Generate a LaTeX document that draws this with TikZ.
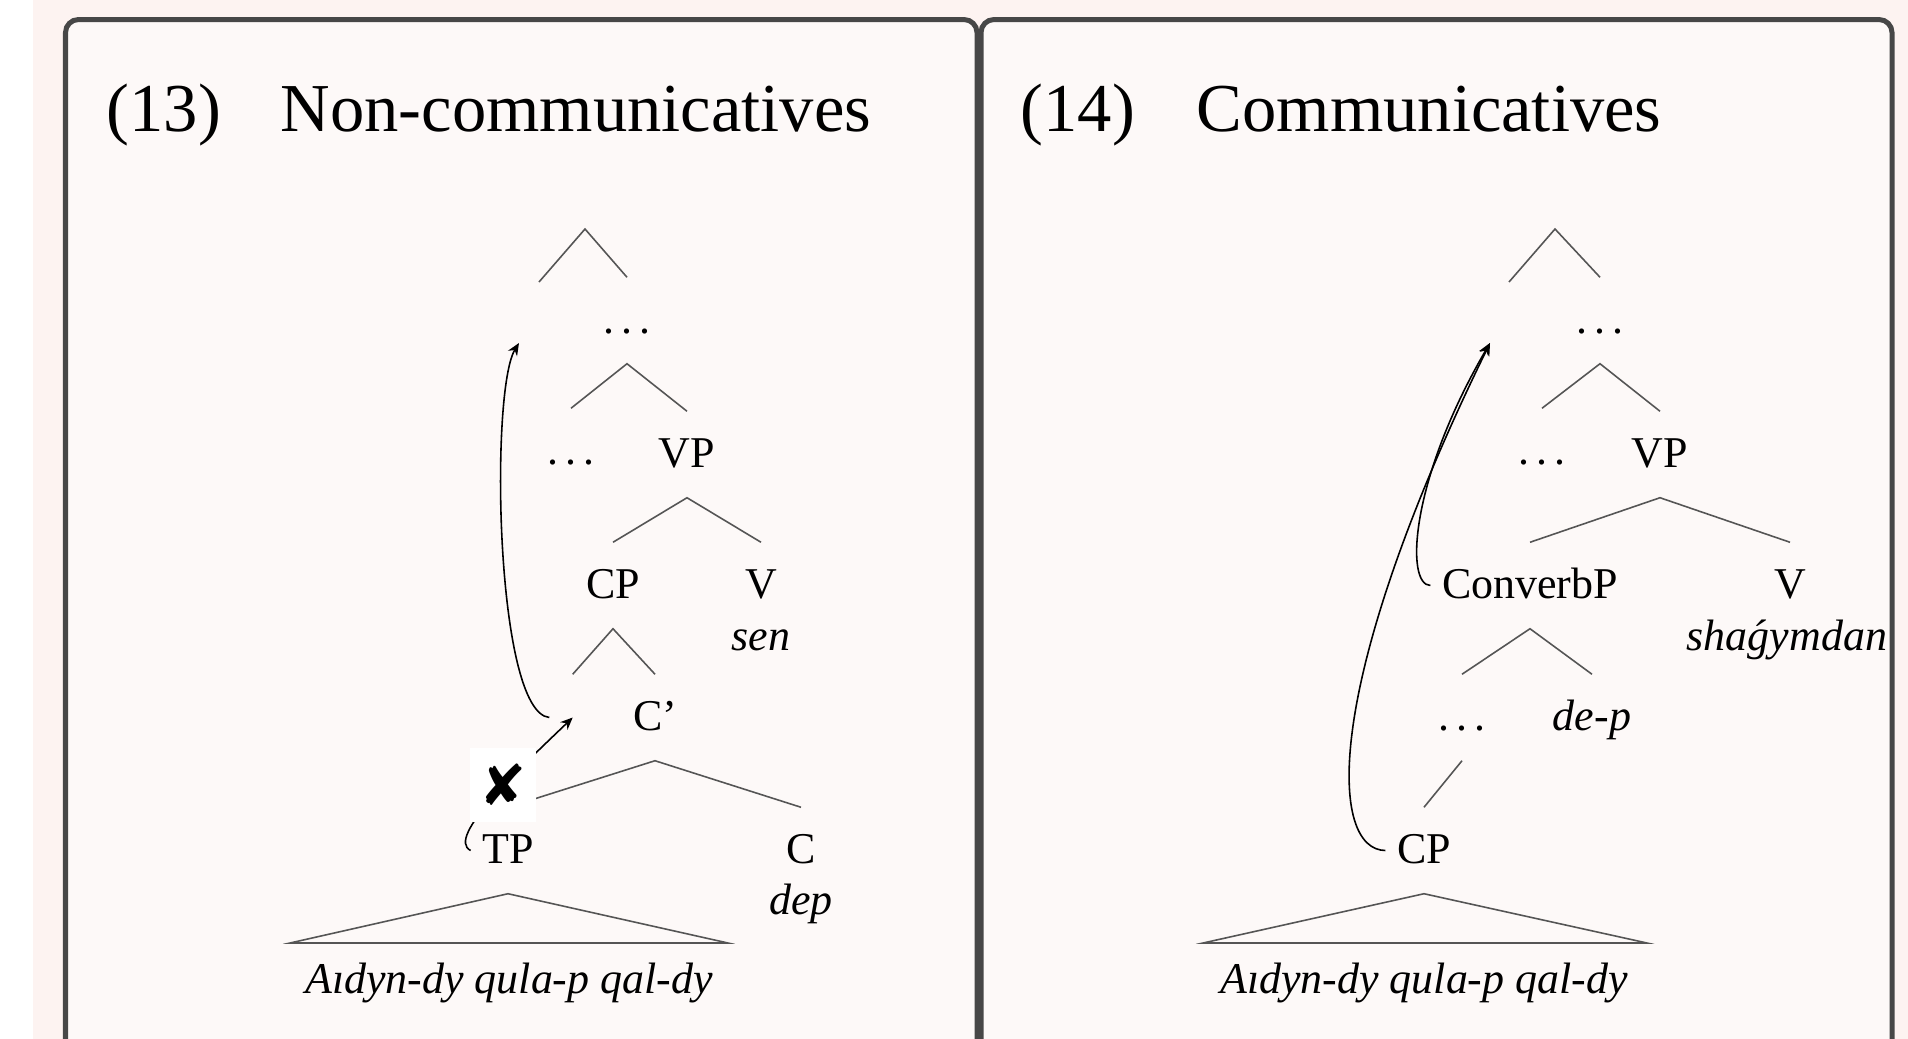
\documentclass[tikz,border=0pt]{standalone}
\usepackage{fontspec}
\setmainfont{Liberation Serif}
\newfontfamily\dejavu{DejaVu Sans}
\usetikzlibrary{arrows.meta}
\definecolor{pagebg}{HTML}{FDF3F1}
\definecolor{panelbg}{HTML}{FDF9F8}
\definecolor{panelline}{HTML}{474747}
\definecolor{branchgray}{HTML}{555555}
\newcommand\gapdots{.\kern0.17em.\kern0.17em.}

\begin{document}
\begin{tikzpicture}[
  x=0.01cm, y=-0.01cm,
  panel/.style={draw=panelline, line width=0.05cm, fill=panelbg, rounded corners=0.13cm},
  title/.style={anchor=base west, inner sep=0pt, font=\fontsize{19.5}{23}\selectfont},
  lbl/.style={anchor=base, inner xsep=0.11cm, inner ysep=0.25cm, text height=0.30cm, text depth=0.05cm, font=\fontsize{12.5}{15}\selectfont},
  word/.style={anchor=base, inner sep=0pt, font=\fontsize{12.5}{15}\selectfont\itshape},
  branch/.style={draw=branchgray, line width=0.45pt},
  move/.style={draw=black, line width=0.45pt, -{Stealth[length=3.5pt, width=3pt]}},
  blocked/.style={fill=white, inner sep=0pt, minimum width=0.65cm, minimum height=0.74cm, font=\dejavu\fontsize{16}{16}\selectfont}
]
\useasboundingbox (0,0) rectangle (1908,1039);
\clip (0,0) rectangle (1908,1039);
\fill[white] (0,0) rectangle (1908,1039);
\fill[pagebg] (33,0) rectangle (1908,1039);
\draw[panel] (65.5,19.5) rectangle (977,1100);
\draw[panel] (981,19.5) rectangle (1892,1100);

\node[title] (l-num) at (106,131) {(13)};
\node[title] (l-title) at (280,131) {Non-communicatives};
\node[title] (r-num) at (1020,131) {(14)};
\node[title] (r-title) at (1196,131) {Communicatives};

\coordinate (l-root) at (585,229);
\coordinate (l-gap) at (539,282);
\node[lbl] (l-dots1) at (627,333) {\gapdots};
\node[lbl] (l-dots2) at (571,464) {\gapdots};
\node[lbl] (l-vp) at (687,467) {VP};
\node[lbl] (l-cp) at (613,598) {CP};
\node[lbl] (l-v) at (761,598) {V};
\node[word] (l-sen) at (761,650) {sen};
\node[lbl] (l-spec) at (561,730) {};
\node[lbl] (l-cbar) at (655,730) {C’};
\node[lbl] (l-tp) at (508,863) {TP};
\node[lbl] (l-c) at (801,863) {C};
\node[word] (l-dep) at (801,914) {dep};
\coordinate (l-tl) at (290,943);
\coordinate (l-tr) at (728,943);
\node[word] (l-sent) at (509,993) {Aıdyn-dy qula-p qal-dy};
\coordinate (l-land) at (519,343);

\draw[branch] (l-gap) -- (l-root) -- (l-dots1.north);
\draw[branch] (l-dots2.north) -- (l-dots1.south) -- (l-vp.north);
\draw[branch] (l-cp.north) -- (l-vp.south) -- (l-v.north);
\draw[branch] (l-spec.north east) -- (l-cp.south) -- (l-cbar.north);
\draw[branch] (l-tp.north) -- (l-cbar.south) -- (l-c.north);
\draw[branch] (l-tl) -- (l-tp.south) -- (l-tr) -- cycle;
\draw[move] (l-tp.west) .. controls (445,838) and (520,768) .. (l-spec.east);
\draw[move] (l-spec.west) .. controls (495,712) and (490,390) .. (l-land);
\node[blocked] (l-block) at (503,785) {✘};

\coordinate (r-root) at (1555,229);
\coordinate (r-gap) at (1509,282);
\node[lbl] (r-dots1) at (1600,333) {\gapdots};
\node[lbl] (r-dots2) at (1542,464) {\gapdots};
\node[lbl] (r-vp) at (1660,467) {VP};
\node[lbl] (r-cvb) at (1530,598) {ConverbP};
\node[lbl] (r-v) at (1790,598) {V};
\node[word] (r-shag) at (1787,650) {shaǵymdan};
\node[lbl] (r-dots3) at (1462,730) {\gapdots};
\node[lbl] (r-dep) at (1592,730) {\itshape de-p};
\node[lbl] (r-cp) at (1424,863) {CP};
\coordinate (r-tl) at (1203,943);
\coordinate (r-tr) at (1647,943);
\node[word] (r-sent) at (1424,993) {Aıdyn-dy qula-p qal-dy};
\coordinate (r-land) at (1490,343);

\draw[branch] (r-gap) -- (r-root) -- (r-dots1.north);
\draw[branch] (r-dots2.north) -- (r-dots1.south) -- (r-vp.north);
\draw[branch] (r-cvb.north) -- (r-vp.south) -- (r-v.north);
\draw[branch] (r-dots3.north) -- (r-cvb.south) -- (r-dep.north);
\draw[branch] (r-dots3.south) -- (r-cp.north);
\draw[branch] (r-tl) -- (r-cp.south) -- (r-tr) -- cycle;
\draw[move] (r-cp.west) .. controls (1330,850) and (1320,690) .. (r-land);
\draw[move] (r-cvb.west) .. controls (1405,585) and (1410,480) .. (r-land);
\end{tikzpicture}
\end{document}
